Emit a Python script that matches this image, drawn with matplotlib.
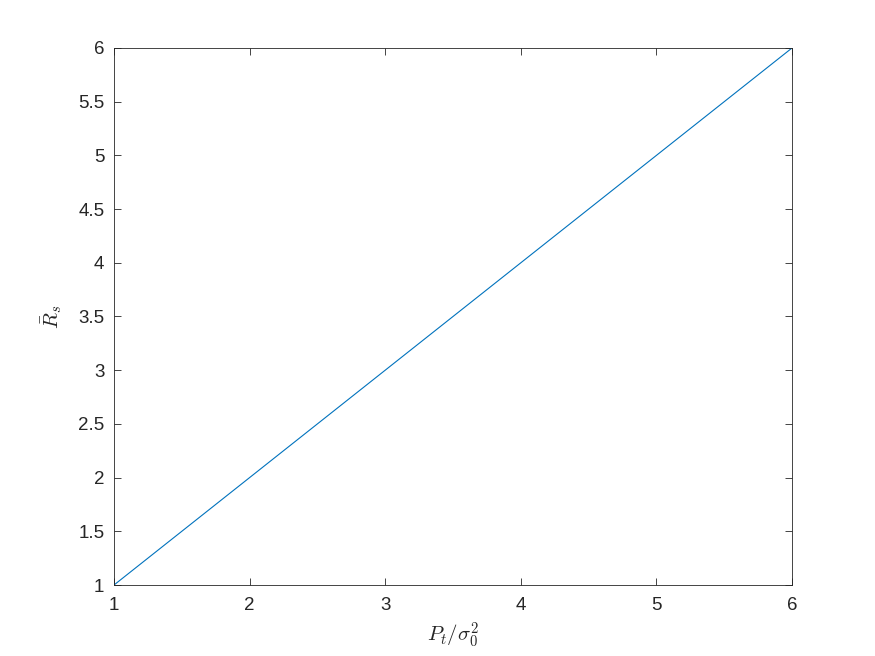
import matplotlib
matplotlib.use("Agg")
import matplotlib.pyplot as plt

# data
x_vals = [1, 2, 3, 4, 5, 6]
y_vals = [1, 2, 3, 4, 5, 6]
x_ticks = [1, 2, 3, 4, 5, 6]
y_ticks = [1, 1.5, 2, 2.5, 3, 3.5, 4, 4.5, 5, 5.5, 6]
y_ticklabels = ["1", "1.5", "2", "2.5", "3", "3.5", "4", "4.5", "5", "5.5", "6"]

plt.rcParams['font.family'] = ['Liberation Sans', 'DejaVu Sans']
plt.rcParams['mathtext.fontset'] = 'cm'

fig = plt.figure(figsize=(8.75, 6.56), dpi=100)
ax = fig.add_axes([114/875, 1-585/656, (792-114)/875, (585-48)/656])
ax.plot(x_vals, y_vals, color='#0072BD', linewidth=0.8)
ax.set_xlim(1, 6)
ax.set_ylim(1, 6)
ax.set_xticks(x_ticks)
ax.set_yticks(y_ticks)
ax.set_yticklabels(y_ticklabels)
ax.tick_params(direction='in', top=True, right=True, labelsize=13.5, colors='#262626', length=5, width=0.6)
ax.tick_params(axis='x', pad=9)
ax.tick_params(axis='y', pad=7)
for s in ax.spines.values():
    s.set_linewidth(0.6)
    s.set_color('#262626')
ax.set_xlabel(r'$P_t/\sigma_0^2$', fontsize=15, color='#262626', labelpad=4)
ax.set_ylabel(r'$\bar{R}_s$', fontsize=15, color='#262626', labelpad=10)
fig.savefig('out.png', dpi=100)
